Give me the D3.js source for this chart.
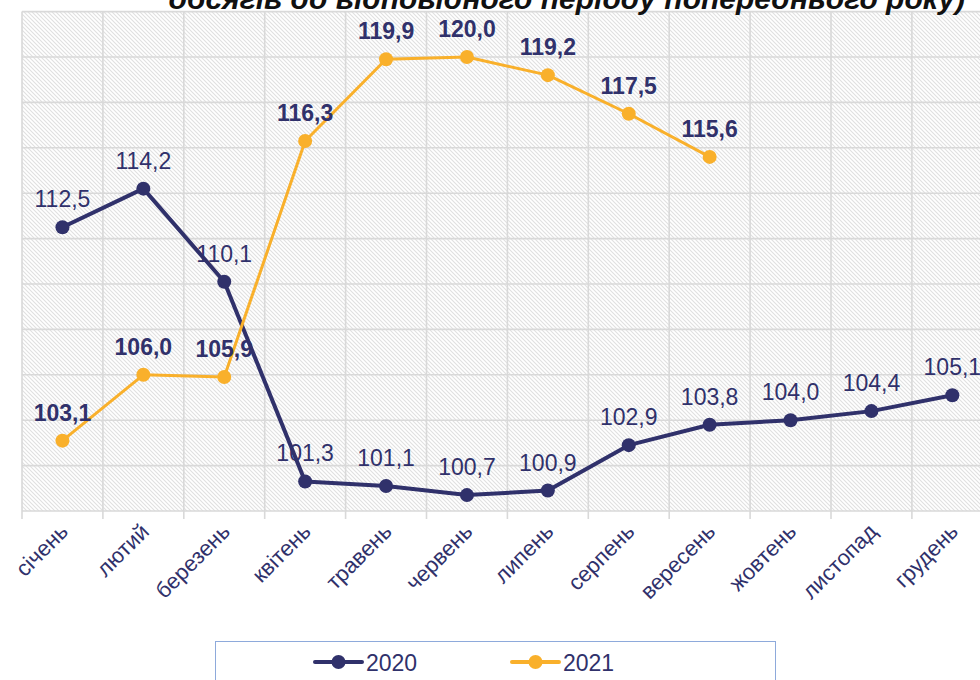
<!DOCTYPE html>
<html><head><meta charset="utf-8">
<script src="https://cdn.jsdelivr.net/npm/d3@7"></script>
<style>html,body{margin:0;padding:0;background:#fff;}svg{display:block;}</style>
</head><body>
<script>
const months = ["січень","лютий","березень","квітень","травень","червень","липень","серпень","вересень","жовтень","листопад","грудень"];
const values2020 = [112.5,114.2,110.1,101.3,101.1,100.7,100.9,102.9,103.8,104.0,104.4,105.1];
const values2021 = [103.1,106.0,105.9,116.3,119.9,120.0,119.2,117.5,115.6];
const seriesNames = ["2020","2021"];
const yTicks = d3.range(100,122.01,2);
const titleText = "обсягів до відповідного періоду попереднього року)";

(function(){
const W=980,H=680;
const navy="#30316b", orange="#f9b02b", grid="#d9d9d9";
const FONT="Liberation Sans, Arial, sans-serif";
const svg=d3.select("body").append("svg").attr("width",W).attr("height",H);
const defs=svg.append("defs");
const pat=defs.append("pattern").attr("id","hatch").attr("patternUnits","userSpaceOnUse")
  .attr("width",4).attr("height",4);
pat.append("rect").attr("width",4).attr("height",4).attr("fill","#fff");
pat.append("path").attr("d","M-1,-1 L5,5 M-1,3 L1,5 M3,-1 L5,1").attr("stroke","#e0e0e0").attr("stroke-width",1.1);

const pLeft=22, bandW=80.9, pTop=11.6, pBottom=511;
const x=d3.scaleBand().domain(months).range([pLeft,pLeft+bandW*12]);
const y=d3.scaleLinear().domain([100,122]).range([pBottom,pTop]);
const cx=m=>x(m)+x.bandwidth()/2;

svg.append("rect").attr("x",pLeft).attr("y",pTop).attr("width",bandW*12).attr("height",pBottom-pTop).attr("fill","url(#hatch)");

svg.append("g").selectAll("line").data(yTicks).join("line")
  .attr("x1",pLeft).attr("x2",pLeft+bandW*12).attr("y1",d=>y(d)).attr("y2",d=>y(d))
  .attr("stroke",grid).attr("stroke-width",1.6);
const edges=months.map(m=>x(m)).concat([pLeft+bandW*12]);
svg.append("g").selectAll("line").data(edges).join("line")
  .attr("x1",d=>d).attr("x2",d=>d).attr("y1",pTop).attr("y2",pBottom+8)
  .attr("stroke",grid).attr("stroke-width",1.6);

svg.append("g").selectAll("text").data(months).join("text")
  .attr("transform",d=>`translate(${cx(d)+7},${pBottom+22}) rotate(-45)`)
  .attr("text-anchor","end").attr("font-family",FONT)
  .attr("font-size",22).attr("fill",navy).text(d=>d);

svg.append("text").attr("x",965).attr("y",9).attr("text-anchor","end")
  .attr("font-family",FONT).attr("font-style","italic").attr("font-weight","bold")
  .attr("font-size",30).attr("fill","#111").text(titleText);

const line=d3.line().x((d,i)=>cx(months[i])).y(d=>y(d));
function drawSeries(vals,color,lw){
  const g=svg.append("g");
  g.append("path").datum(vals).attr("d",line).attr("fill","none").attr("stroke",color).attr("stroke-width",lw).attr("stroke-linejoin","round");
  g.selectAll("circle").data(vals).join("circle").attr("cx",(d,i)=>cx(months[i])).attr("cy",d=>y(d)).attr("r",7).attr("fill",color);
}
function drawLabels(vals,bold,dy){
  svg.append("g").selectAll("text").data(vals).join("text")
    .attr("x",(d,i)=>cx(months[i])).attr("y",d=>y(d)+dy).attr("text-anchor","middle")
    .attr("font-family",FONT).attr("font-size",23)
    .attr("font-weight",bold?"bold":"normal").attr("fill",navy)
    .text(d=>d3.format(".1f")(d).replace(".",","));
}
drawSeries(values2020,navy,4);
drawSeries(values2021,orange,3);
drawLabels(values2020,false,-20);
drawLabels(values2021,true,-20);

const lg=svg.append("g");
lg.append("rect").attr("x",215.5).attr("y",641.5).attr("width",560).attr("height",60).attr("fill","#fff").attr("stroke","#8eaadb").attr("stroke-width",1);
const items=[{name:seriesNames[0],color:navy,x0:315},{name:seriesNames[1],color:orange,x0:512}];
items.forEach(it=>{
  lg.append("line").attr("x1",it.x0).attr("x2",it.x0+47).attr("y1",662).attr("y2",662).attr("stroke",it.color).attr("stroke-width",4).attr("stroke-linecap","round");
  lg.append("circle").attr("cx",it.x0+23.5).attr("cy",662).attr("r",7).attr("fill",it.color);
  lg.append("text").attr("x",it.x0+51).attr("y",671).attr("font-family",FONT).attr("font-size",23).attr("fill",navy).text(it.name);
});
})();
</script>
</body></html>
